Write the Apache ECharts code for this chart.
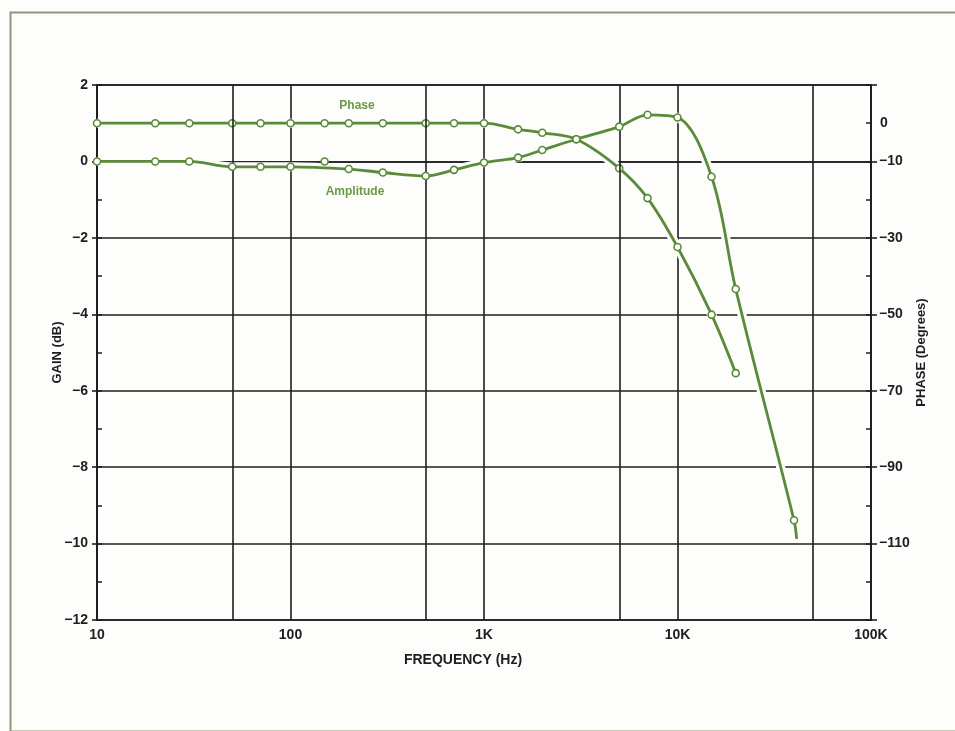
<!DOCTYPE html>
<html>
<head>
<meta charset="utf-8">
<script src="https://cdn.jsdelivr.net/npm/echarts@6/dist/echarts.min.js"></script>
<style>
html,body{margin:0;padding:0;background:#fdfdfb;}
#c{width:955px;height:731px;}
</style>
</head>
<body>
<div id="c"></div>
<script>
// ---- data ----
const phaseFreq = [10,20,30,50,70,100,150,200,300,500,700,1000,1500,2000,3000,5000,7000,10000,15000,20000];
const phaseDeg  = [0,0,0,0,0,0,0,0,0,0,0,0,-1.6,-2.5,-4.2,-11.8,-19.6,-32.4,-50.1,-65.4];

const ampFreq = [10,20,30,50,70,100,150,200,300,500,700,1000,1500,2000,3000,5000,7000,10000,15000,20000,40000];
const ampGain = [0,0,0,-0.14,-0.14,-0.14,0,-0.2,-0.29,-0.38,-0.22,-0.03,0.1,0.3,0.58,0.91,1.22,1.15,-0.4,-3.34,-9.39];

const ampCurveFreq = [10,20,30,50,70,100,200,300,500,700,1000,1500,2000,3000,5000,7000,10000,15000,20000,40000,41300];
const ampCurveGain = [0,0,0,-0.14,-0.14,-0.14,-0.2,-0.29,-0.38,-0.22,-0.03,0.1,0.3,0.58,0.91,1.22,1.15,-0.4,-3.34,-9.39,-9.88];

const xTickLabels = {10:'10',100:'100',1000:'1K',10000:'10K',100000:'100K'};
const extraVerticalGrid = [50,500,5000,50000];
const phaseLabels = [-10,-30,-50,-70,-90,-110];
const phaseLabelExtra = [0];

// ---- style ----
const GREEN = '#5a8a3a';
const INK = '#1e1e1e';
const FONT = '"Liberation Sans", Arial, sans-serif';
const zip = (a,b) => a.map((v,i)=>[v,b[i]]);
const minus = v => String(v).replace('-', '\u2212');

const chart = echarts.init(document.getElementById('c'), null, {renderer:'canvas'});

const labelStyle = {color: INK, fontFamily: FONT, fontWeight: 'bold', fontSize: 14};

chart.setOption({
  backgroundColor: '#fdfdfb',
  animation: false,
  grid: {left: 97, right: 84, top: 85, bottom: 111, show: true, borderColor: INK, borderWidth: 1.6, backgroundColor: 'transparent'},
  xAxis: {
    type: 'log', logBase: 10, min: 10, max: 100000,
    axisLine: {show: true, lineStyle: {color: INK, width: 1.6}},
    axisTick: {show: false},
    splitLine: {show: true, lineStyle: {color: INK, width: 1.6}},
    axisLabel: Object.assign({margin: 8, formatter: v => xTickLabels[Math.round(v)] || ''}, labelStyle),
    name: 'FREQUENCY (Hz)', nameLocation: 'middle', nameGap: 33, nameMoveOverlap: false,
    nameTextStyle: {color: INK, fontFamily: FONT, fontWeight: 'bold', fontSize: 14, padding: [0, 42, 0, 0]}
  },
  yAxis: [
    { // gain (left)
      type: 'value', position: 'left', min: -12, max: 2, interval: 2,
      axisLine: {show: true, lineStyle: {color: INK, width: 1.6}},
      axisTick: {show: true, inside: false, length: 5, lineStyle: {color: INK, width: 1.6}},
      splitLine: {show: true, lineStyle: {color: INK, width: 1.6}},
      axisLabel: Object.assign({margin: 9, formatter: v => minus(v)}, labelStyle),
      name: 'GAIN (dB)', nameLocation: 'middle', nameGap: 33, nameRotate: 90, nameMoveOverlap: false,
      nameTextStyle: {color: INK, fontFamily: FONT, fontWeight: 'bold', fontSize: 13}
    },
    { // phase (right) major
      type: 'value', position: 'right', min: -130, max: 10, interval: 20,
      axisLine: {show: true, lineStyle: {color: INK, width: 1.6}},
      axisTick: {show: true, inside: false, length: 6, lineStyle: {color: INK, width: 1.6}},
      splitLine: {show: false},
      axisLabel: Object.assign({margin: 8, formatter: v => phaseLabels.includes(v) ? minus(v) : ''}, labelStyle),
      name: 'PHASE (Degrees)', nameLocation: 'middle', nameGap: 44, nameRotate: 90, nameMoveOverlap: false,
      nameTextStyle: {color: INK, fontFamily: FONT, fontWeight: 'bold', fontSize: 13}
    },
    { // gain minor inside ticks
      type: 'value', position: 'left', min: -12, max: 2, interval: 1,
      axisLine: {show: false}, splitLine: {show: false},
      axisTick: {show: true, inside: true, length: 5, lineStyle: {color: INK, width: 1.5}},
      axisLabel: {show: false}
    },
    { // phase minor inside ticks + "0" label
      type: 'value', position: 'right', min: -130, max: 10, interval: 10,
      axisLine: {show: false}, splitLine: {show: false},
      axisTick: {show: true, inside: true, length: 5, lineStyle: {color: INK, width: 1.5}},
      axisLabel: Object.assign({margin: 9, formatter: v => phaseLabelExtra.includes(v) ? minus(v) : ''}, labelStyle)
    }
  ],
  series: [
    { // extra vertical grid lines at 5 per decade
      type: 'line', data: [], z: 1, silent: true,
      markLine: {
        silent: true, symbol: ['none','none'], label: {show: false},
        lineStyle: {color: INK, width: 1.6, type: 'solid'},
        data: extraVerticalGrid.map(v => ({xAxis: v}))
      }
    },
    { type: 'line', yAxisIndex: 0, data: zip(ampCurveFreq, ampCurveGain), smooth: 0.35, showSymbol: false,
      lineStyle: {color: '#fdfdfb', width: 9}, z: 2, silent: true },
    { type: 'line', yAxisIndex: 1, data: zip(phaseFreq, phaseDeg), smooth: 0.35, showSymbol: false,
      lineStyle: {color: '#fdfdfb', width: 9}, z: 2, silent: true },
    { name: 'Amplitude', type: 'line', yAxisIndex: 0, data: zip(ampCurveFreq, ampCurveGain), smooth: 0.35, showSymbol: false,
      lineStyle: {color: GREEN, width: 2.8}, z: 3 },
    { name: 'Phase', type: 'line', yAxisIndex: 1, data: zip(phaseFreq, phaseDeg), smooth: 0.35,
      showSymbol: true, symbol: 'circle', symbolSize: 7,
      itemStyle: {color: '#ffffff', borderColor: GREEN, borderWidth: 1.6},
      lineStyle: {color: GREEN, width: 2.8}, z: 4 },
    { name: 'Amplitude points', type: 'scatter', yAxisIndex: 0, data: zip(ampFreq, ampGain),
      symbol: 'circle', symbolSize: 7,
      itemStyle: {color: '#ffffff', borderColor: GREEN, borderWidth: 1.6, opacity: 1}, z: 5 }
  ],
  graphic: [
    {type: 'rect', left: 8, top: 10, shape: {width: 1000, height: 719},
     style: {fill: 'none', stroke: '#8c9a7c', lineWidth: 2}, z: -1, silent: true},
    {type: 'text', x: 357, y: 106, style: {text: 'Phase', fill: '#6a9a46', font: 'bold 12px ' + FONT, textAlign: 'center', textVerticalAlign: 'middle'}},
    {type: 'text', x: 355, y: 192, style: {text: 'Amplitude', fill: '#6a9a46', font: 'bold 12px ' + FONT, textAlign: 'center', textVerticalAlign: 'middle'}}
  ]
});
</script>
</body>
</html>
